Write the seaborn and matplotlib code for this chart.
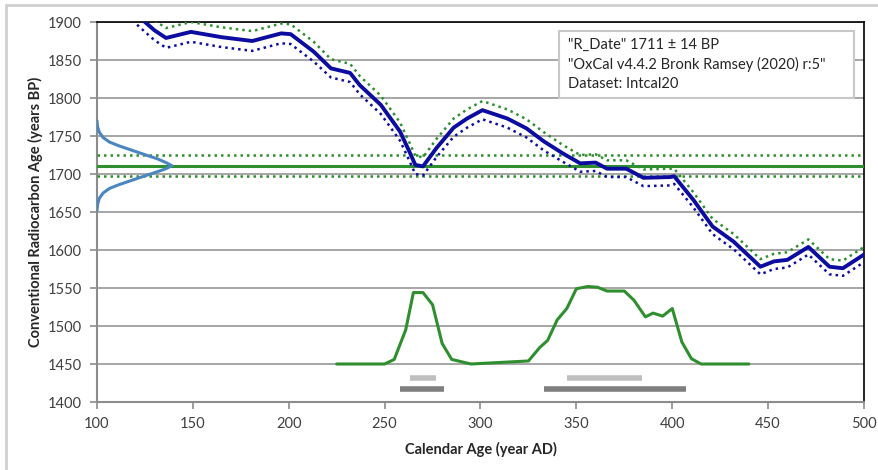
import numpy as np
import pandas as pd
import seaborn as sns
import matplotlib.pyplot as plt
from matplotlib.patches import Rectangle
from matplotlib.lines import Line2D

# Curva de calibracion (IntCal20)
cal_x = [100, 112, 125, 130, 136, 149, 165, 181, 196, 201, 213, 222, 232, 237, 248,
         258, 263, 266, 270, 277, 286, 293, 301, 314, 324, 333, 343, 352, 360, 366,
         376, 385, 399, 401, 411, 421, 432, 446, 453, 460, 471, 482, 489, 500]
cal_y = [1955, 1930, 1900, 1889, 1879, 1887, 1880, 1875, 1885, 1884, 1861, 1839, 1833, 1817, 1791,
         1756, 1729, 1712, 1710, 1734, 1761, 1773, 1784, 1773, 1760, 1743, 1727, 1714, 1715, 1707,
         1707, 1695, 1696, 1697, 1666, 1631, 1611, 1578, 1585, 1587, 1604, 1578, 1576, 1594]
cal_sd = [13, 13, 13, 13, 13, 13, 13, 13, 13, 13, 13, 12, 12, 12, 12,
          12, 12, 12, 12, 12, 12, 12, 12, 12, 12, 12, 11, 11, 11, 11,
          11, 11, 11, 10, 10, 10, 10, 10, 10, 10, 10, 10, 10, 10]

# Fecha radiocarbono
r_date = 1711
r_err = 14

# Distribucion del radiocarbono (eje y)
gauss_y = [1652, 1660, 1668, 1675, 1681, 1686, 1692, 1698, 1703, 1707, 1711,
           1715, 1720, 1725, 1731, 1737, 1742, 1748, 1755, 1762, 1770]
gauss_x = [100, 100.3, 101.2, 103.2, 106.5, 111.5, 118.5, 125.5, 131.5, 136, 139,
           136, 131.5, 125.5, 118.5, 111.5, 106.5, 103.2, 101.2, 100.3, 100]

# Distribucion calibrada
prob_x = [225, 250, 255, 261, 265, 270, 275, 280, 285, 295, 325, 331, 335, 340, 345,
          350, 356, 361, 366, 375, 380, 386, 390, 395, 400, 405, 410, 415, 440]
prob_y = [1450, 1450, 1456, 1495, 1544, 1544, 1528, 1477, 1456, 1450, 1454, 1472, 1481, 1508, 1523,
          1549, 1552, 1551, 1546, 1546, 1534, 1512, 1517, 1513, 1523, 1479, 1457, 1450, 1450]

# Intervalos 68.2% y 95.4%
range68 = [(263, 277), (345, 384)]
range95 = [(258, 281), (333, 407)]

info = ['"R_Date" 1711 \u00b1 14 BP',
        '"OxCal v4.4.2 Bronk Ramsey (2020) r:5"',
        'Dataset: Intcal20']

sns.set_style('white')
plt.rcParams['font.family'] = ['Lato', 'DejaVu Sans']

cal = pd.DataFrame({'x': cal_x, 'y': cal_y, 'sd': cal_sd})
cal['up'] = cal['y'] + cal['sd']
cal['lo'] = cal['y'] - cal['sd']

fig = plt.figure(figsize=(8.79, 4.70), dpi=100)
ax = fig.add_axes([97 / 879, 1 - 402 / 470, 767 / 879, 380 / 470])

blue = '#0c0ca0'
green = '#2f8f2f'
dots = (0, (1, 1.6))

ax.axhline(r_date, color=green, lw=2.2, zorder=3)
ax.axhline(r_date + r_err, color=green, lw=1.8, ls=dots, zorder=3)
ax.axhline(r_date - r_err, color=green, lw=1.8, ls=dots, zorder=3)

sns.lineplot(data=cal, x='x', y='up', ax=ax, color=green, lw=1.8, ls=dots, zorder=4)
sns.lineplot(data=cal, x='x', y='lo', ax=ax, color=blue, lw=1.8, ls=dots, zorder=4)
sns.lineplot(data=cal, x='x', y='y', ax=ax, color=blue, lw=2.8, zorder=5)

sns.lineplot(x=gauss_x, y=gauss_y, ax=ax, sort=False, estimator=None,
             color='#4a86c0', lw=2.2, zorder=5)
sns.lineplot(x=prob_x, y=prob_y, ax=ax, color=green, lw=2.2, zorder=5)

for a, b in range68:
    ax.hlines(1431, a, b, color='#bfbfbf', lw=4, zorder=4)
for a, b in range95:
    ax.hlines(1417, a, b, color='#7f7f7f', lw=4, zorder=4)

ax.set_xlim(100, 500)
ax.set_ylim(1400, 1900)
ax.set_xticks(range(100, 501, 50))
ax.set_yticks(range(1400, 1901, 50))
ax.yaxis.grid(True, color='#a6a6a6', lw=1.4)
ax.set_axisbelow(True)
for s in ['left', 'bottom']:
    ax.spines[s].set_color('#8c8c8c')
    ax.spines[s].set_linewidth(1.5)
for s in ['top', 'right']:
    ax.spines[s].set_color('black')
    ax.spines[s].set_linewidth(1.2)
ax.tick_params(axis='both', direction='out', length=5, width=1.2, color='#8c8c8c',
               labelsize=10.5, labelcolor='#404040', pad=6, left=True, bottom=True)

ax.set_xlabel('Calendar Age (year AD)', fontsize=10.5, fontweight='bold', color='#262626', labelpad=8)
ax.set_ylabel('Conventional Radiocarbon Age (years BP)', fontsize=10.5, fontweight='bold',
              color='#262626', labelpad=3)

ax.add_patch(Rectangle((0.602, 0.801), 0.385, 0.175, transform=ax.transAxes,
                       facecolor='white', edgecolor='#c8c8c8', lw=1.5, zorder=8))
ax.text(0.614, 0.889, '\n'.join(info), transform=ax.transAxes, ha='left', va='center',
        fontsize=10.5, color='#262626', linespacing=1.45, zorder=9)

# marco exterior
fig.add_artist(Line2D([6 / 879, 1], [1 - 5 / 470, 1 - 5 / 470], color='#d0d0d0', lw=2))
fig.add_artist(Line2D([6 / 879, 6 / 879], [0, 1 - 5 / 470], color='#d0d0d0', lw=2))

fig.savefig('out.png', dpi=100)
